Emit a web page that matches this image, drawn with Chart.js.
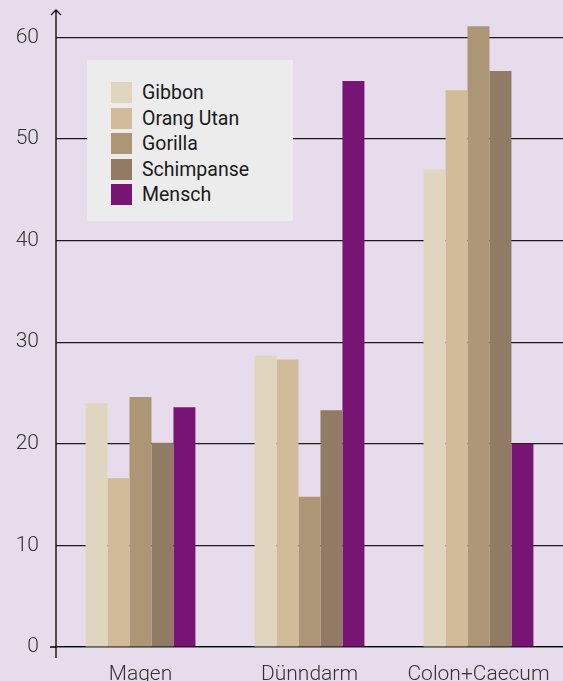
<!DOCTYPE html>
<html>
<head>
<meta charset="utf-8">
<script src="https://cdn.jsdelivr.net/npm/chart.js@4/dist/chart.umd.min.js"></script>
<style>
  html, body { margin: 0; padding: 0; background: #e7dcec; }
  #wrap { position: relative; width: 563px; height: 681px; }
  #legend {
    position: absolute; left: 87px; top: 60px; width: 206px; height: 161px;
    background: #ececec; box-sizing: border-box; padding: 20px 0 0 24px;
    font-family: Roboto, sans-serif; font-size: 19.5px; color: #1a1a1a;
  }
  .item { display: flex; align-items: center; height: 25.5px; }
  .sw { width: 21px; height: 21px; margin-right: 10px; flex: none; }
</style>
</head>
<body>
<div id="wrap">
  <canvas id="barChart" width="563" height="681"></canvas>
  <div id="legend"></div>
</div>
<script>
var categories = ['Magen', 'Dünndarm', 'Colon+Caecum'];
var seriesNames = ['Gibbon', 'Orang Utan', 'Gorilla', 'Schimpanse', 'Mensch'];
var gibbon = [24.0, 28.7, 47.0];
var orangUtan = [16.6, 28.3, 54.8];
var gorilla = [24.6, 14.8, 61.1];
var schimpanse = [20.1, 23.3, 56.7];
var mensch = [23.6, 55.7, 20.0];
var colors = ['#e0d6c0', '#d1bb98', '#ac9676', '#927b64', '#771474'];
var yTicks = [0, 10, 20, 30, 40, 50, 60];

var seriesValues = [gibbon, orangUtan, gorilla, schimpanse, mensch];

var legendDiv = document.getElementById('legend');
seriesNames.forEach(function(name, i) {
    var row = document.createElement('div');
    row.className = 'item';
    row.innerHTML = '<span class="sw" style="background:' + colors[i] + '"></span>' + name;
    legendDiv.appendChild(row);
});

// axis arrow + extra tick below zero
var axisExtras = {
    id: 'axisExtras',
    afterDraw: function(chart) {
        var ctx = chart.ctx;
        var x0 = chart.scales.y.right;
        var yZero = chart.scales.y.getPixelForValue(0);
        ctx.save();
        ctx.strokeStyle = '#000';
        ctx.lineWidth = 1.3;
        ctx.beginPath();
        ctx.moveTo(x0, yZero + 11);
        ctx.lineTo(x0, 10);
        ctx.moveTo(x0 - 5, 15);
        ctx.lineTo(x0, 10);
        ctx.lineTo(x0 + 5, 15);
        ctx.moveTo(x0 - 6, yZero);
        ctx.lineTo(x0, yZero);
        ctx.stroke();
        ctx.restore();
    }
};

var tickFont = { family: 'Roboto', size: 21, weight: 300 };

var ctx = document.getElementById('barChart').getContext('2d');
var barChart = new Chart(ctx, {
    type: 'bar',
    data: {
        labels: categories,
        datasets: seriesNames.map(function(name, i) {
            return {
                label: name,
                data: seriesValues[i],
                backgroundColor: colors[i],
                borderWidth: 0,
                barPercentage: 1,
                categoryPercentage: 0.65
            };
        })
    },
    options: {
        responsive: false,
        animation: false,
        layout: { padding: { top: 12, right: 0, left: 0, bottom: 0 } },
        plugins: {
            legend: { display: false },
            tooltip: { enabled: false }
        },
        scales: {
            x: {
                grid: { display: false },
                border: { display: true, color: '#000', width: 1.3 },
                ticks: {
                    color: '#333',
                    font: tickFont,
                    padding: 7
                },
                afterFit: function(scale) {
                    scale.height = 34;
                    scale.paddingLeft = 0;
                    scale.paddingRight = 0;
                }
            },
            y: {
                min: 0,
                max: 62.5,
                z: 1,
                afterBuildTicks: function(scale) {
                    scale.ticks = yTicks.map(function(v) { return { value: v }; });
                },
                grid: { color: '#1a1a1a', lineWidth: 1.2, drawTicks: false },
                border: { display: false },
                ticks: {
                    color: '#333',
                    font: tickFont,
                    padding: 17
                },
                afterFit: function(scale) {
                    scale.width = 56;
                    scale.paddingTop = 0;
                    scale.paddingBottom = 0;
                }
            }
        }
    },
    plugins: [axisExtras]
});
</script>
</body>
</html>
